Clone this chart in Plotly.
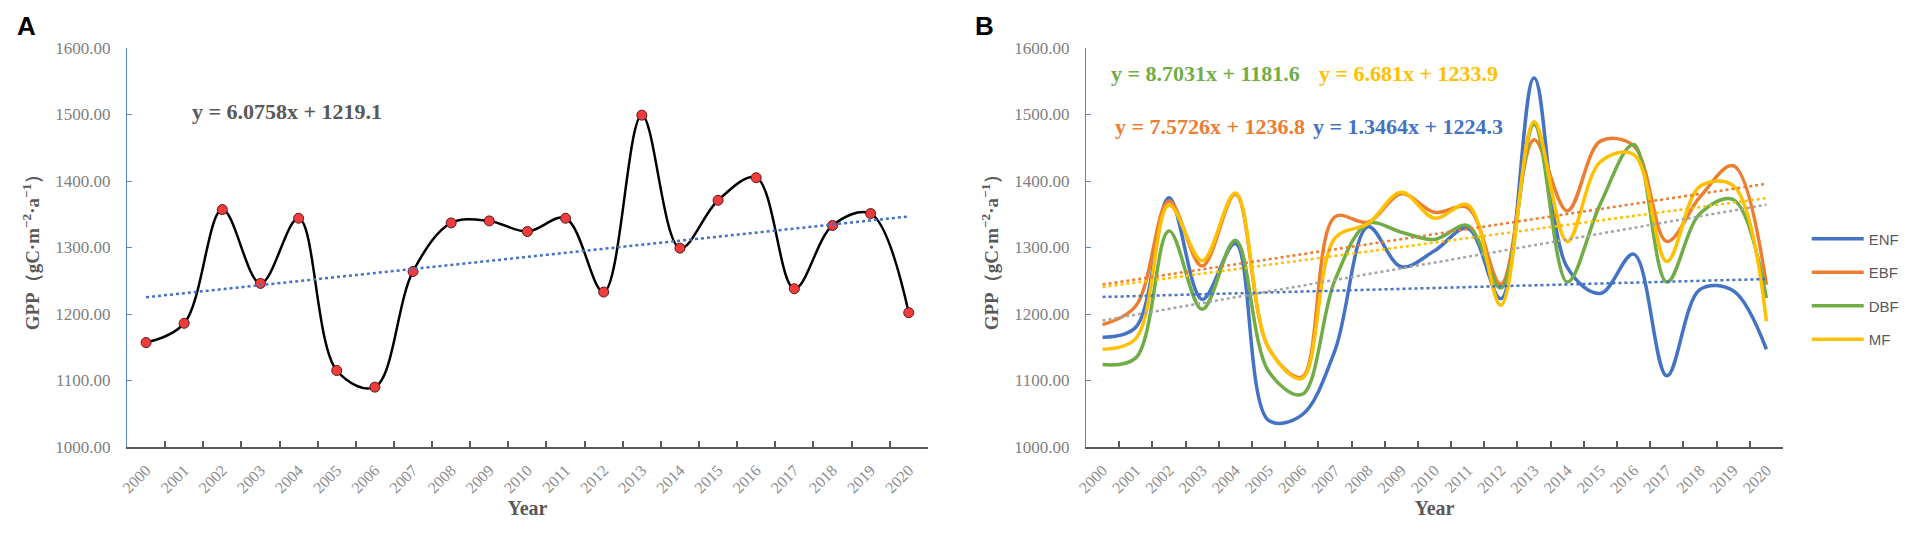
import plotly.graph_objects as go

# years on the category axis
YEARS = [str(y) for y in range(2000, 2021)]

# panel A: all forests
GPP_ALL = [1157, 1186, 1357, 1246, 1344, 1115, 1090, 1264, 1337, 1340, 1324,
           1344, 1233, 1499, 1299, 1371, 1405, 1238, 1333, 1351, 1202]

# panel B: forest types
ENF = [1165, 1180, 1375, 1222, 1306, 1040, 1048, 1145, 1331, 1271, 1295,
       1329, 1223, 1555, 1270, 1231, 1290, 1107, 1237, 1235, 1147]
EBF = [1184, 1212, 1370, 1272, 1380, 1149, 1105, 1346, 1338, 1381, 1353,
       1360, 1245, 1462, 1355, 1460, 1453, 1309, 1376, 1423, 1244]
DBF = [1124, 1134, 1325, 1207, 1311, 1114, 1079, 1251, 1336, 1323, 1312,
       1333, 1239, 1485, 1248, 1366, 1455, 1248, 1351, 1372, 1224]
MF = [1147, 1163, 1364, 1280, 1382, 1149, 1103, 1314, 1336, 1383, 1344,
      1364, 1213, 1489, 1309, 1429, 1440, 1279, 1392, 1393, 1189]

# linear trends as printed on the chart (x = 1..21)
TREND_ALL = (6.0758, 1219.1)
TREND_ENF = (1.3464, 1224.3)
TREND_EBF = (7.5726, 1236.8)
TREND_DBF = (8.7031, 1181.6)
TREND_MF = (6.681, 1233.9)

SERIF = "Times New Roman, Liberation Serif, serif"
SANS = "Liberation Sans, Arial, sans-serif"
BLUE, ORANGE, GREEN, YELLOW, GREY = "#4472C4", "#ED7D31", "#70AD47", "#FFC000", "#A5A5A5"

# pixel frame of the plot area (figure is 1908 x 535)
W, H = 1908, 535
L, R, T, B = 119, 114, 40, 96
PW, PH = W - L - R, H - T - B


def px_x(x):
    return (x - L) / PW


def px_y(y):
    return (H - B - y) / PH


def trend(coef):
    a, b = coef
    return [a * (i + 1) + b for i in range(len(YEARS))]


def eq_text(coef):
    a, b = coef
    return f"y = {a:g}x + {b:g}"


fig = go.Figure()

# ---- panel A
fig.add_trace(go.Scatter(
    x=YEARS, y=GPP_ALL, mode="lines+markers", xaxis="x", yaxis="y",
    line=dict(color="black", width=2.5, shape="spline", smoothing=1.0),
    marker=dict(color="#F03C3C", size=10, line=dict(color="#5a1a1a", width=1)),
    showlegend=False,
))
fig.add_trace(go.Scatter(
    x=YEARS, y=trend(TREND_ALL), mode="lines", xaxis="x", yaxis="y",
    line=dict(color=BLUE, width=2.5, dash="dot"), showlegend=False,
))

# ---- panel B
series = [("ENF", ENF, BLUE), ("EBF", EBF, ORANGE), ("DBF", DBF, GREEN), ("MF", MF, YELLOW)]
for name, vals, col in series:
    fig.add_trace(go.Scatter(
        x=YEARS, y=vals, mode="lines", name=name, xaxis="x2", yaxis="y2",
        line=dict(color=col, width=3.5, shape="spline", smoothing=1.0),
        legendgroup=name,
    ))

for coef, col in [(TREND_ENF, BLUE), (TREND_EBF, ORANGE), (TREND_DBF, GREY), (TREND_MF, YELLOW)]:
    fig.add_trace(go.Scatter(
        x=YEARS, y=trend(coef), mode="lines", xaxis="x2", yaxis="y2",
        line=dict(color=col, width=2.5, dash="dot"), showlegend=False,
    ))

xa = dict(
    type="category", range=[-0.5, len(YEARS) - 0.5],
    showline=True, linecolor="#595959", linewidth=1.5,
    ticks="inside", tickson="boundaries", ticklen=6, tickwidth=1.5, tickcolor="#595959",
    tickangle=-45, tickfont=dict(family=SERIF, size=16, color="#8C8C8C"),
    ticklabelstandoff=6,
    showgrid=False, zeroline=False,
    title=dict(text="<b>Year</b>", font=dict(family=SERIF, size=20, color="#595959"), standoff=6),
)
ya = dict(
    range=[1000, 1600], dtick=100, tickformat=".2f",
    showline=True, linecolor="#5B87C9", linewidth=1.2,
    ticks="inside", ticklen=5, tickcolor="#5B87C9",
    tickfont=dict(family=SERIF, size=17, color="#808080"),
    ticklabelstandoff=12,
    showgrid=False, zeroline=False,
    title=dict(text="<b>GPP（gC·m<sup>−2</sup>·a<sup>−1</sup>）</b>",
               font=dict(family=SERIF, size=19, color="#595959"), standoff=10),
)

a_right = px_x(929)
b_left = px_x(1089)

fig.update_layout(
    width=W, height=H,
    margin=dict(l=L, r=R, t=T, b=B),
    paper_bgcolor="white", plot_bgcolor="white",
    xaxis=dict(xa, domain=[0, a_right], anchor="y"),
    yaxis=dict(ya, domain=[0, 1], anchor="x"),
    xaxis2=dict(xa, domain=[b_left, 1], anchor="y2"),
    yaxis2=dict(ya, domain=[0, 1], anchor="x2"),
    legend=dict(
        x=px_x(1818), y=px_y(281), xanchor="left", yanchor="middle",
        font=dict(family=SANS, size=15, color="#595959"),
        traceorder="grouped", tracegroupgap=11, itemwidth=52,
        bgcolor="rgba(0,0,0,0)",
    ),
)

annos = [
    ("<b>A</b>", 17, 18, "black", SANS, 26),
    ("<b>B</b>", 986, 18, "black", SANS, 26),
    ("<b>" + eq_text(TREND_ALL) + "</b>", 281, 103, "#595959", SERIF, 22),
    ("<b>" + eq_text(TREND_DBF) + "</b>", 1210, 65, GREEN, SERIF, 22),
    ("<b>" + eq_text(TREND_MF) + "</b>", 1415, 65, YELLOW, SERIF, 22),
    ("<b>" + eq_text(TREND_EBF) + "</b>", 1214, 118, ORANGE, SERIF, 22),
    ("<b>" + eq_text(TREND_ENF) + "</b>", 1415, 118, BLUE, SERIF, 22),
]
for text, x, y, col, fam, size in annos:
    fig.add_annotation(
        text=text, x=px_x(x), y=px_y(y), xref="paper", yref="paper",
        xanchor="center", yanchor="middle", showarrow=False,
        font=dict(family=fam, size=size, color=col),
    )

fig.write_html("out.html")
